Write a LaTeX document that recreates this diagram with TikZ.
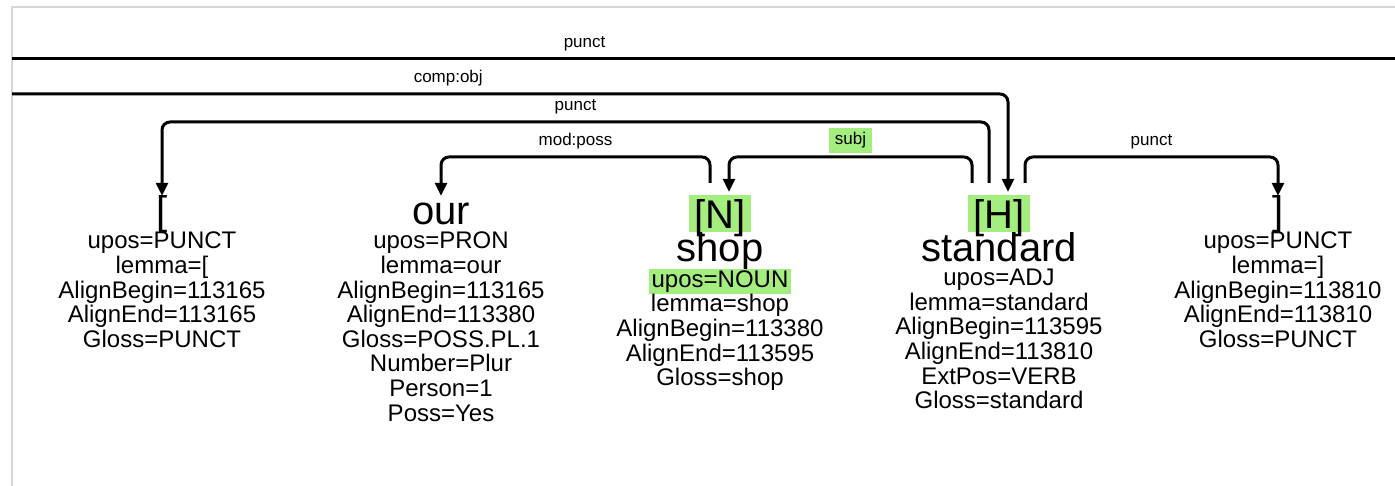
\documentclass[tikz,border=0pt]{standalone}
\usepackage{fontspec}
\setmainfont{Liberation Sans}
\usetikzlibrary{arrows.meta,positioning}

\definecolor{hlgreen}{RGB}{164,238,128}
\definecolor{framegray}{RGB}{214,214,214}

\tikzset{
  word/.style={font=\fontsize{40}{40}\selectfont, inner sep=0pt, text height=29pt, text depth=9pt},
  headtag/.style={font=\fontsize{40}{40}\selectfont, fill=hlgreen, inner xsep=5pt, inner ysep=1pt, text height=33pt, text depth=2pt},
  feats/.style={on grid=false, font=\fontsize{24}{24.6}\selectfont, align=center, inner sep=0pt},
  hlfeat/.style={on grid=false, font=\fontsize{24}{24.6}\selectfont, fill=hlgreen, inner xsep=3pt, inner ysep=.5pt, text height=18pt, text depth=6pt},
  lab/.style={on grid=false, font=\fontsize{17}{17}\selectfont, inner sep=0pt, sharp corners},
  dep/.style={line width=3pt, rounded corners=8pt},
}

\begin{document}
\begin{tikzpicture}[x=1pt,y=-1pt,node distance=279pt,on grid,>={Triangle[width=12pt,length=13pt]}]
\useasboundingbox (0,0) rectangle (1395,486);
\draw[framegray, line width=1.5pt] (12,486) -- (12,7) -- (1395,7);

% tokens
\node[word, anchor=base] (lb) at (162,225) {[};
\node[word] (our) [right=of lb] {our};
\node[word] (shop) [right=of our, yshift=-37pt] {shop};
\node[word] (standard) [right=of shop] {standard};
\node[word] (rb) [right=of standard, yshift=37pt] {]};
\node[headtag] (shop-tag) [above=38.5pt of shop] {[N]};
\node[headtag] (standard-tag) [above=38.5pt of standard] {[H]};

% features
\node[feats] (lb-feats) [below=7pt of lb.base] {upos=PUNCT\\lemma=[\\AlignBegin=113165\\AlignEnd=113165\\Gloss=PUNCT};
\node[feats] (our-feats) [below=7pt of our.base] {upos=PRON\\lemma=our\\AlignBegin=113165\\AlignEnd=113380\\Gloss=POSS.PL.1\\Number=Plur\\Person=1\\Poss=Yes};
\node[hlfeat] (shop-upos) [below=7pt of shop.base] {upos=NOUN\ };
\node[feats] (shop-feats) [below=0pt of shop-upos] {lemma=shop\\AlignBegin=113380\\AlignEnd=113595\\Gloss=shop};
\node[feats] (standard-feats) [below=7pt of standard.base] {upos=ADJ\\lemma=standard\\AlignBegin=113595\\AlignEnd=113810\\ExtPos=VERB\\Gloss=standard};
\node[feats] (rb-feats) [below=7pt of rb.base] {upos=PUNCT\\lemma=]\\AlignBegin=113810\\AlignEnd=113810\\Gloss=PUNCT};

% attachment points and arc levels
\coordinate (shop-out) at ([shift={(-10pt,12pt)}]shop-tag.north);
\coordinate (shop-in) at ([shift={(9pt,3pt)}]shop-tag.north);
\coordinate (standard-subj) at ([shift={(-27pt,12pt)}]standard-tag.north);
\coordinate (standard-pl) at ([shift={(-10pt,12pt)}]standard-tag.north);
\coordinate (standard-in) at ([shift={(9pt,3pt)}]standard-tag.north);
\coordinate (standard-pr) at ([shift={(26pt,12pt)}]standard-tag.north);
\coordinate (lev1) at (0,157);
\coordinate (lev2) at (0,122);
\coordinate (lev3) at (12,94);
\coordinate (lev4) at (12,59);
\coordinate (lev4-end) at (1395,59);

% relations
\draw[dep] (lev4) -- (lev4-end) node[lab, above=6pt, pos=.414] {punct};
\draw[dep,->] (lev3) -| (standard-in) node[lab, above=6pt, pos=.219] {comp:obj};
\draw[dep,->] (standard-pl) |- (lev2 -| lb) node[lab, above=6pt, pos=.75] {punct} -- (lb);
\draw[dep,->] (shop-out) |- (lev1 -| our) node[lab, above=6pt, pos=.75] {mod:poss} -- (our);
\draw[dep,->] (standard-subj) |- (lev1 -| shop-in) node[lab, above=2pt, pos=.75, fill=hlgreen, inner xsep=6pt, inner ysep=5pt] {subj} -- (shop-in);
\draw[dep,->] (standard-pr) |- (lev1 -| rb) node[lab, above=6pt, pos=.75] {punct} -- (rb);
\end{tikzpicture}
\end{document}
